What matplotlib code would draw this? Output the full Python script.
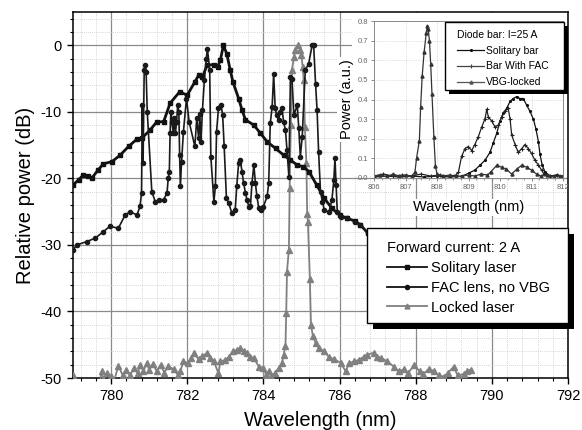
import matplotlib
matplotlib.use("Agg")
import matplotlib.pyplot as plt
from matplotlib.patches import Rectangle
from matplotlib.ticker import MultipleLocator
from matplotlib.lines import Line2D

plt.rcParams['font.family'] = ['Liberation Sans', 'DejaVu Sans']
plt.rcParams['axes.unicode_minus'] = False

# ---------------- main plot data ----------------
sol_x = [779.0, 779.15, 779.27, 779.4, 779.49, 779.65, 779.8, 780.02, 780.24, 780.46,
         780.68, 780.8, 781.03, 781.2, 781.38, 781.55, 781.8, 782.0, 782.2, 782.3,
         782.4, 782.52, 782.69, 782.8, 782.87, 782.95, 783.04, 783.13, 783.2, 783.35,
         783.44, 783.53, 783.75, 783.92, 784.1, 784.32, 784.53, 784.71, 784.89, 785.05,
         785.2, 785.4, 785.6, 785.8, 786.0, 786.2, 786.4, 786.55, 786.74, 787.0]
sol_y = [-21.0, -20.2, -19.5, -19.7, -20.0, -18.8, -17.8, -17.5, -16.5, -15.2,
         -14.1, -14.0, -12.7, -11.5, -11.5, -8.7, -7.0, -7.5, -5.5, -4.5,
         -4.75, -3.0, -2.9, -3.2, -2.25, 0.0, -1.3, -3.75, -5.5, -8.0,
         -9.75, -11.2, -12.0, -13.2, -14.5, -15.5, -16.5, -17.25, -18.0, -18.25,
         -19.0, -21.0, -23.0, -24.5, -25.5, -26.0, -26.4, -27.0, -28.2, -29.5]

fac_x = [779.0, 779.1, 779.36, 779.58, 779.8, 779.97, 780.19, 780.37, 780.5, 780.68,
         780.76, 780.8, 780.82, 780.84, 780.87, 780.89, 780.92, 780.95, 781.07, 781.16,
         781.27, 781.38, 781.47, 781.5, 781.53, 781.55, 781.57, 781.6, 781.63, 781.66,
         781.69, 781.72, 781.75, 781.78, 781.8, 781.82, 781.85, 781.9, 781.98, 782.05,
         782.2, 782.25, 782.3, 782.33, 782.36, 782.4, 782.45, 782.5, 782.53, 782.59,
         782.62, 782.7, 782.74, 782.77, 782.82, 782.89, 782.93, 782.97, 783.03, 783.09,
         783.17, 783.26, 783.3, 783.35, 783.39, 783.44, 783.48, 783.53, 783.57, 783.62,
         783.66, 783.7, 783.75, 783.79, 783.83, 783.88, 783.94, 784.0, 784.1, 784.14,
         784.18, 784.23, 784.27, 784.31, 784.35, 784.4, 784.44, 784.49, 784.53, 784.58,
         784.62, 784.67, 784.71, 784.75, 784.8, 784.89, 784.93, 784.97, 785.02, 785.1,
         785.19, 785.28, 785.32, 785.37, 785.41, 785.45, 785.5, 785.55, 785.6, 785.72,
         785.8, 785.85, 785.88, 785.91, 785.94, 786.03, 786.2, 786.4, 786.55, 786.74,
         787.0]
fac_y = [-30.7, -30.0, -29.5, -29.0, -28.0, -27.2, -27.5, -25.5, -25.0, -25.5,
         -24.2, -22.2, -9.0, -17.7, -3.75, -3.0, -4.0, -10.0, -22.0, -23.5,
         -23.3, -23.2, -22.2, -20.0, -19.0, -13.2, -10.0, -11.5, -13.2, -11.0,
         -13.2, -11.5, -9.0, -10.0, -16.5, -21.2, -17.6, -13.0, -8.0, -11.5,
         -15.2, -11.0, -14.0, -10.3, -14.5, -9.7, -5.25, -2.0, -0.5, -3.75,
         -16.75, -23.5, -21.2, -13.0, -9.5, -9.0, -10.5, -15.2, -23.0, -23.7,
         -25.2, -24.75, -21.2, -17.75, -17.2, -19.0, -20.7, -22.2, -23.25, -24.25,
         -24.2, -20.7, -18.0, -20.7, -22.7, -24.5, -24.7, -24.25, -22.7, -20.7,
         -11.75, -9.25, -4.25, -9.5, -10.5, -11.25, -10.0, -9.5, -11.5, -12.75,
         -15.75, -19.75, -4.75, -5.0, -10.5, -9.0, -12.5, -16.75, -13.75, -3.75,
         -2.75, 0.0, 0.0, -5.75, -9.75, -16.0, -22.0, -23.5, -24.75, -25.1,
         -23.25, -20.25, -17.0, -21.0, -25.0, -25.75, -26.0, -26.5, -27.0, -28.2,
         -29.5]

lock_x = [779.0, 779.1, 779.5, 779.7, 779.75, 779.8, 779.9, 780.0, 780.05, 780.19,
          780.3, 780.4, 780.5, 780.6, 780.7, 780.76, 780.85, 780.94, 781.0, 781.1,
          781.2, 781.3, 781.4, 781.5, 781.64, 781.75, 781.82, 781.9, 782.03, 782.1,
          782.17, 782.3, 782.4, 782.52, 782.6, 782.7, 782.82, 782.87, 783.0, 783.1,
          783.2, 783.3, 783.39, 783.48, 783.57, 783.65, 783.75, 783.88, 784.0, 784.07,
          784.14, 784.2, 784.3, 784.4, 784.49, 784.53, 784.58, 784.6, 784.62, 784.67,
          784.69, 784.72, 784.75, 784.8, 784.84, 784.9, 784.96, 785.0, 785.03, 785.06,
          785.09, 785.13, 785.15, 785.17, 785.22, 785.25, 785.3, 785.37, 785.46, 785.59,
          785.72, 785.85, 786.03, 786.16, 786.25, 786.38, 786.5, 786.64, 786.73, 786.9,
          786.99, 787.1, 787.25, 787.43, 787.55, 787.69, 787.8, 787.96, 788.1, 788.2,
          788.35, 788.48, 788.6, 788.74, 788.85, 789.0, 789.1, 789.27, 789.35, 789.45]
lock_y = [-49.6, -51.0, -51.0, -50.5, -49.0, -50.2, -49.3, -49.7, -51.0, -48.2,
          -49.5, -48.8, -49.6, -48.5, -49.3, -48.0, -49.0, -47.7, -48.8, -47.9,
          -49.0, -48.0, -49.2, -48.2, -48.7, -49.5, -49.0, -47.5, -47.8, -47.0,
          -46.25, -47.2, -46.7, -46.25, -47.0, -47.5, -49.3, -47.5, -47.3, -46.8,
          -46.0, -45.8, -45.5, -46.0, -46.25, -46.8, -47.0, -48.3, -48.5, -49.5,
          -49.0, -49.7, -49.3, -48.5, -47.75, -46.5, -45.2, -40.2, -34.0, -30.7,
          -21.5, -12.0, -3.75, -1.75, -0.7, 0.0, -0.7, -1.5, -3.2, -5.25,
          -12.25, -17.75, -25.3, -26.5, -35.1, -42.0, -43.7, -44.7, -45.5, -46.0,
          -46.8, -47.2, -47.7, -49.0, -47.8, -47.5, -47.3, -46.8, -46.5, -46.2,
          -46.8, -47.0, -47.5, -48.3, -49.0, -48.7, -49.3, -48.0, -49.0, -49.4,
          -48.6, -49.0, -49.6, -49.8, -49.2, -48.3, -49.6, -49.4, -48.9, -48.8]

main_labels = ["Solitary laser", "FAC lens, no VBG", "Locked laser"]
main_title = "Forward current: 2 A"

# ---------------- inset data ----------------
in_sol_x = [806.0, 806.4, 806.8, 807.2, 807.6, 808.0, 808.4, 808.8, 809.0, 809.2,
            809.37, 809.52, 809.68, 809.79, 809.9, 810.0, 810.1, 810.21, 810.32, 810.42,
            810.53, 810.63, 810.74, 810.85, 810.95, 811.06, 811.14, 811.22, 811.27, 811.34,
            811.43, 811.6, 811.8, 812.0]
in_sol_y = [0.005, 0.01, 0.005, 0.01, 0.005, 0.01, 0.005, 0.01, 0.024, 0.04,
            0.066, 0.09, 0.13, 0.18, 0.23, 0.29, 0.33, 0.355, 0.39, 0.405,
            0.415, 0.405, 0.405, 0.37, 0.34, 0.30, 0.25, 0.185, 0.12, 0.066,
            0.03, 0.01, 0.015, 0.005]

in_fac_x = [806.0, 806.3, 806.6, 806.9, 807.2, 807.5, 807.8, 808.1, 808.4, 808.6,
            808.68, 808.78, 808.89, 808.99, 809.1, 809.2, 809.31, 809.42, 809.52, 809.58,
            809.63, 809.74, 809.84, 809.95, 810.05, 810.16, 810.26, 810.32, 810.37, 810.48,
            810.58, 810.69, 810.79, 810.9, 811.0, 811.11, 811.22, 811.32, 811.4, 811.6,
            811.8, 812.0]
in_fac_y = [0.01, 0.02, 0.01, 0.015, 0.01, 0.02, 0.01, 0.015, 0.01, 0.015,
            0.03, 0.11, 0.15, 0.16, 0.14, 0.17, 0.21, 0.26, 0.30, 0.35,
            0.31, 0.29, 0.26, 0.27, 0.31, 0.34, 0.355, 0.30, 0.22, 0.17,
            0.13, 0.15, 0.17, 0.15, 0.125, 0.09, 0.066, 0.04, 0.02, 0.01,
            0.015, 0.01]

in_vbg_x = [806.0, 806.2, 806.4, 806.6, 806.8, 807.0, 807.2, 807.3, 807.35, 807.44,
            807.48, 807.53, 807.59, 807.66, 807.69, 807.72, 807.76, 807.8, 807.84, 807.9,
            807.95, 808.0, 808.2, 808.4, 808.6, 808.8, 809.0, 809.2, 809.4, 809.6,
            809.7, 809.9, 810.05, 810.2, 810.37, 810.53, 810.69, 810.85, 811.0, 811.16,
            811.3, 811.5, 811.7, 811.9, 812.0]
in_vbg_y = [0.01, 0.015, 0.005, 0.02, 0.01, 0.015, 0.01, 0.03, 0.10, 0.19,
            0.36, 0.52, 0.64, 0.74, 0.775, 0.76, 0.70, 0.58, 0.43, 0.21,
            0.06, 0.02, 0.01, 0.015, 0.005, 0.01, 0.015, 0.01, 0.02, 0.015,
            0.03, 0.065, 0.055, 0.045, 0.02, 0.045, 0.065, 0.055, 0.04, 0.02,
            0.01, 0.015, 0.005, 0.01, 0.01]

inset_labels = ["Solitary bar", "Bar With FAC", "VBG-locked"]
inset_title = "Diode bar: I=25 A"

W, H = 582, 430
fig = plt.figure(figsize=(W / 100, H / 100), dpi=100)

def fx(px):
    return px / W

def fy(py):
    return 1 - py / H

def box(x0, y0, x1, y1, shadow, z):
    """frame + shadow, given in pixel coordinates (y downwards)"""
    s = Rectangle((fx(x0 + shadow), fy(y1 + shadow)), fx(x1) - fx(x0), fy(y0) - fy(y1),
                  transform=fig.transFigure, facecolor='black', edgecolor='none',
                  zorder=z)
    f = Rectangle((fx(x0), fy(y1)), fx(x1) - fx(x0), fy(y0) - fy(y1),
                  transform=fig.transFigure, facecolor='white', edgecolor='black',
                  linewidth=1.0, zorder=z + 0.1)
    fig.add_artist(s)
    fig.add_artist(f)

# main axes: x 73..568 px, y 12..378 px
ax = fig.add_axes([fx(73), fy(378), fx(568) - fx(73), fy(12) - fy(378)])
ax.set_xlim(779, 792)
ax.set_ylim(-50, 5)
ax.xaxis.set_major_locator(MultipleLocator(2))
ax.xaxis.set_minor_locator(MultipleLocator(0.4))
ax.yaxis.set_major_locator(MultipleLocator(10))
ax.yaxis.set_minor_locator(MultipleLocator(2))
ax.grid(which='major', color='#8a8a8a', linewidth=0.9, linestyle='-')
ax.grid(which='minor', color='#c8c8c8', linewidth=0.6, linestyle=(0, (1, 1.5)))
ax.set_axisbelow(True)
ax.tick_params(which='major', direction='out', length=4.5, width=1.0, labelsize=10.5,
               colors='black')
ax.tick_params(which='minor', direction='out', length=2.5, width=0.8)
for s in ax.spines.values():
    s.set_linewidth(1.1)
ax.set_xlabel("Wavelength (nm)", fontsize=14.5, labelpad=6)
ax.set_ylabel("Relative power (dB)", fontsize=14.5, labelpad=4)

ax.plot(sol_x, sol_y, color='#111111', lw=2.0, marker='s', ms=3.2, zorder=3,
        label=main_labels[0])
ax.plot(fac_x, fac_y, color='#1a1a1a', lw=1.2, marker='o', ms=3.0, zorder=3,
        label=main_labels[1])
ax.plot(lock_x, lock_y, color='#808080', lw=1.3, marker='^', ms=4.0, zorder=2.9,
        label=main_labels[2])

# white background behind the inset
bg = Rectangle((fx(352), fy(176)), fx(567) - fx(352), fy(13) - fy(176),
               transform=fig.transFigure, facecolor='white', edgecolor='none',
               zorder=1)
fig.add_artist(bg)

# main legend frame (x 367..568, y 228..323) with black shadow
box(367, 228, 568, 323, 6, 4)

handles = [Line2D([], [], color='#111111', lw=1.3, marker='s', ms=3),
           Line2D([], [], color='#111111', lw=1.3, marker='o', ms=3),
           Line2D([], [], color='#808080', lw=1.3, marker='^', ms=3.5)]
leg = fig.legend(handles, main_labels, title=main_title, loc='upper left',
                 bbox_to_anchor=(fx(387), fy(241)), bbox_transform=fig.transFigure,
                 fontsize=10.5, title_fontsize=10.5, frameon=False,
                 handlelength=2.75, handletextpad=0.3, labelspacing=0.4,
                 borderpad=0, borderaxespad=0, alignment='left')
leg.set_zorder(5)

# inset axes: x 374..563 px, y 21..178 px
ins = fig.add_axes([fx(374), fy(178), fx(563) - fx(374), fy(21) - fy(178)])
ins.set_zorder(2)
ins.set_xlim(806, 812)
ins.set_ylim(0, 0.8)
ins.xaxis.set_major_locator(MultipleLocator(1))
ins.xaxis.set_minor_locator(MultipleLocator(0.25))
ins.set_yticks([0, 0.1, 0.2, 0.3, 0.4, 0.5, 0.6, 0.7, 0.8])
ins.set_yticklabels(["0.0", "0.1", "0.2", "0.3", "0.4", "0.5", "0.6", "0.7", "0.8"])
ins.grid(which='major', color='#c8c8c8', linewidth=0.5, linestyle=(0, (1, 1.5)))
ins.set_axisbelow(True)
ins.tick_params(which='major', direction='out', length=2.5, width=0.6, labelsize=5.5,
                colors='#777777', labelcolor='#666666', pad=1.5)
ins.tick_params(which='minor', direction='out', length=1.5, width=0.5, colors='#777777')
for s in ins.spines.values():
    s.set_color('#888888')
    s.set_linewidth(0.7)
ins.set_xlabel("Wavelength (nm)", fontsize=10.5, labelpad=7,
               bbox=dict(facecolor='white', edgecolor='none', pad=1))
ins.set_ylabel("Power (a.u.)", fontsize=10.5, labelpad=3,
               bbox=dict(facecolor='white', edgecolor='none', pad=2))

ins.plot(in_sol_x, in_sol_y, color='#111111', lw=0.9, marker='.', ms=2.5)
ins.plot(in_fac_x, in_fac_y, color='#222222', lw=0.9, marker='+', ms=2.5, mew=0.8)
ins.plot(in_vbg_x, in_vbg_y, color='#333333', lw=0.9, marker='^', ms=2.2)

# inset legend frame (x 445..564, y 22..90)
box(445, 22, 564, 90, 4, 3)
ih = [Line2D([], [], color='#111111', lw=0.9, marker='.', ms=2.5),
      Line2D([], [], color='#444444', lw=0.9, marker='+', ms=3, mew=0.8),
      Line2D([], [], color='#555555', lw=0.9, marker='^', ms=2.2)]
ileg = fig.legend(ih, inset_labels, title=inset_title, loc='upper left',
                  bbox_to_anchor=(fx(457), fy(30)), bbox_transform=fig.transFigure,
                  fontsize=7.5, title_fontsize=7.5, frameon=False,
                  handlelength=2.6, handletextpad=0.2, labelspacing=0.55,
                  borderpad=0, borderaxespad=0, alignment='left')
ileg.set_zorder(3.5)

fig.savefig("out.png", dpi=100)
